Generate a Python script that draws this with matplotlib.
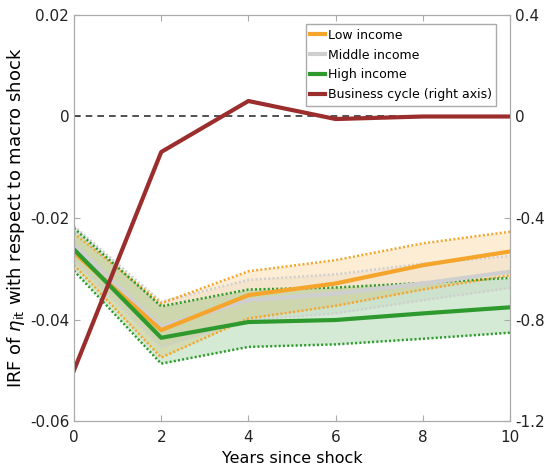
import matplotlib.pyplot as plt
from matplotlib.lines import Line2D

years = [0, 2, 4, 6, 8, 10]

# IRF point estimates (left axis)
low_mid = [-0.0268, -0.0421, -0.0352, -0.0329, -0.0293, -0.0266]
low_hi = [-0.0230, -0.0368, -0.0305, -0.0283, -0.0250, -0.0227]
low_lo = [-0.0293, -0.0475, -0.0398, -0.0373, -0.0341, -0.0313]

middle_mid = [-0.0253, -0.0414, -0.0362, -0.0349, -0.0329, -0.0306]
middle_hi = [-0.0216, -0.0365, -0.0322, -0.0311, -0.0290, -0.0275]
middle_lo = [-0.0283, -0.0454, -0.0401, -0.0388, -0.0362, -0.0338]

high_mid = [-0.0262, -0.0436, -0.0405, -0.0401, -0.0388, -0.0376]
high_hi = [-0.0220, -0.0374, -0.0341, -0.0337, -0.0328, -0.0318]
high_lo = [-0.0304, -0.0487, -0.0454, -0.0449, -0.0438, -0.0426]

# business cycle (right axis)
cycle = [-1.0, -0.14, 0.061, -0.01, 0.0, 0.0]

labels = ['Low income', 'Middle income', 'High income', 'Business cycle (right axis)']
colors = ['#F5A52B', '#CFCFCF', '#2E9A2E', '#9B2D2D']
spine_col = '#AAAAAA'

fig = plt.figure(figsize=(5.44, 4.69), dpi=100)
ax = fig.add_axes([74 / 544, 48 / 469, 436 / 544, 406 / 469])

groups = [(middle_mid, middle_lo, middle_hi, colors[1]),
          (low_mid, low_lo, low_hi, colors[0]),
          (high_mid, high_lo, high_hi, colors[2])]

for mid, lo, hi, c in groups:
    ax.fill_between(years, lo, hi, color=c, alpha=0.2, linewidth=0)
for mid, lo, hi, c in groups:
    ax.plot(years, lo, color=c, lw=1.8, dashes=(0.8, 0.9))
    ax.plot(years, hi, color=c, lw=1.8, dashes=(0.8, 0.9))
for mid, lo, hi, c in groups:
    ax.plot(years, mid, '-', color=c, lw=3)

ax.axhline(0, color='#333333', ls='--', lw=1.2, dashes=(4, 3))

ax.set_xlim(0, 10)
ax.set_ylim(-0.06, 0.02)
ax.set_xticks([0, 2, 4, 6, 8, 10])
ax.set_yticks([-0.06, -0.04, -0.02, 0, 0.02])
ax.set_yticklabels(['-0.06', '-0.04', '-0.02', '0', '0.02'])
ax.set_xlabel('Years since shock', fontsize=11.5, labelpad=4)
ax.set_ylabel(r'IRF of $\eta_{\mathrm{it}}$ with respect to macro shock', fontsize=13, labelpad=2)
ax.tick_params(direction='in', colors=spine_col, labelcolor='#222222', labelsize=11,
               top=True, length=4)
ax.tick_params(axis='x', pad=6.5)

ax2 = ax.twinx()
ax2.plot(years, cycle, '-', color=colors[3], lw=3)
ax2.set_ylim(-1.2, 0.4)
ax2.set_yticks([-1.2, -0.8, -0.4, 0, 0.4])
ax2.set_yticklabels(['-1.2', '-0.8', '-0.4', '0', '0.4'])
ax2.tick_params(direction='in', colors=spine_col, labelcolor='#222222', labelsize=11, length=4)

for a in (ax, ax2):
    for s in a.spines.values():
        s.set_color(spine_col)

handles = [Line2D([], [], color=c, lw=3) for c in colors]
leg = ax2.legend(handles, labels, loc='upper right', bbox_to_anchor=(0.968, 0.977),
                 fontsize=9, handlelength=1.2, handletextpad=0.2, labelspacing=0.55,
                 borderpad=0.35, borderaxespad=0, fancybox=False, framealpha=1)
leg.get_frame().set_edgecolor(spine_col)

fig.savefig('out.png', dpi=100)
